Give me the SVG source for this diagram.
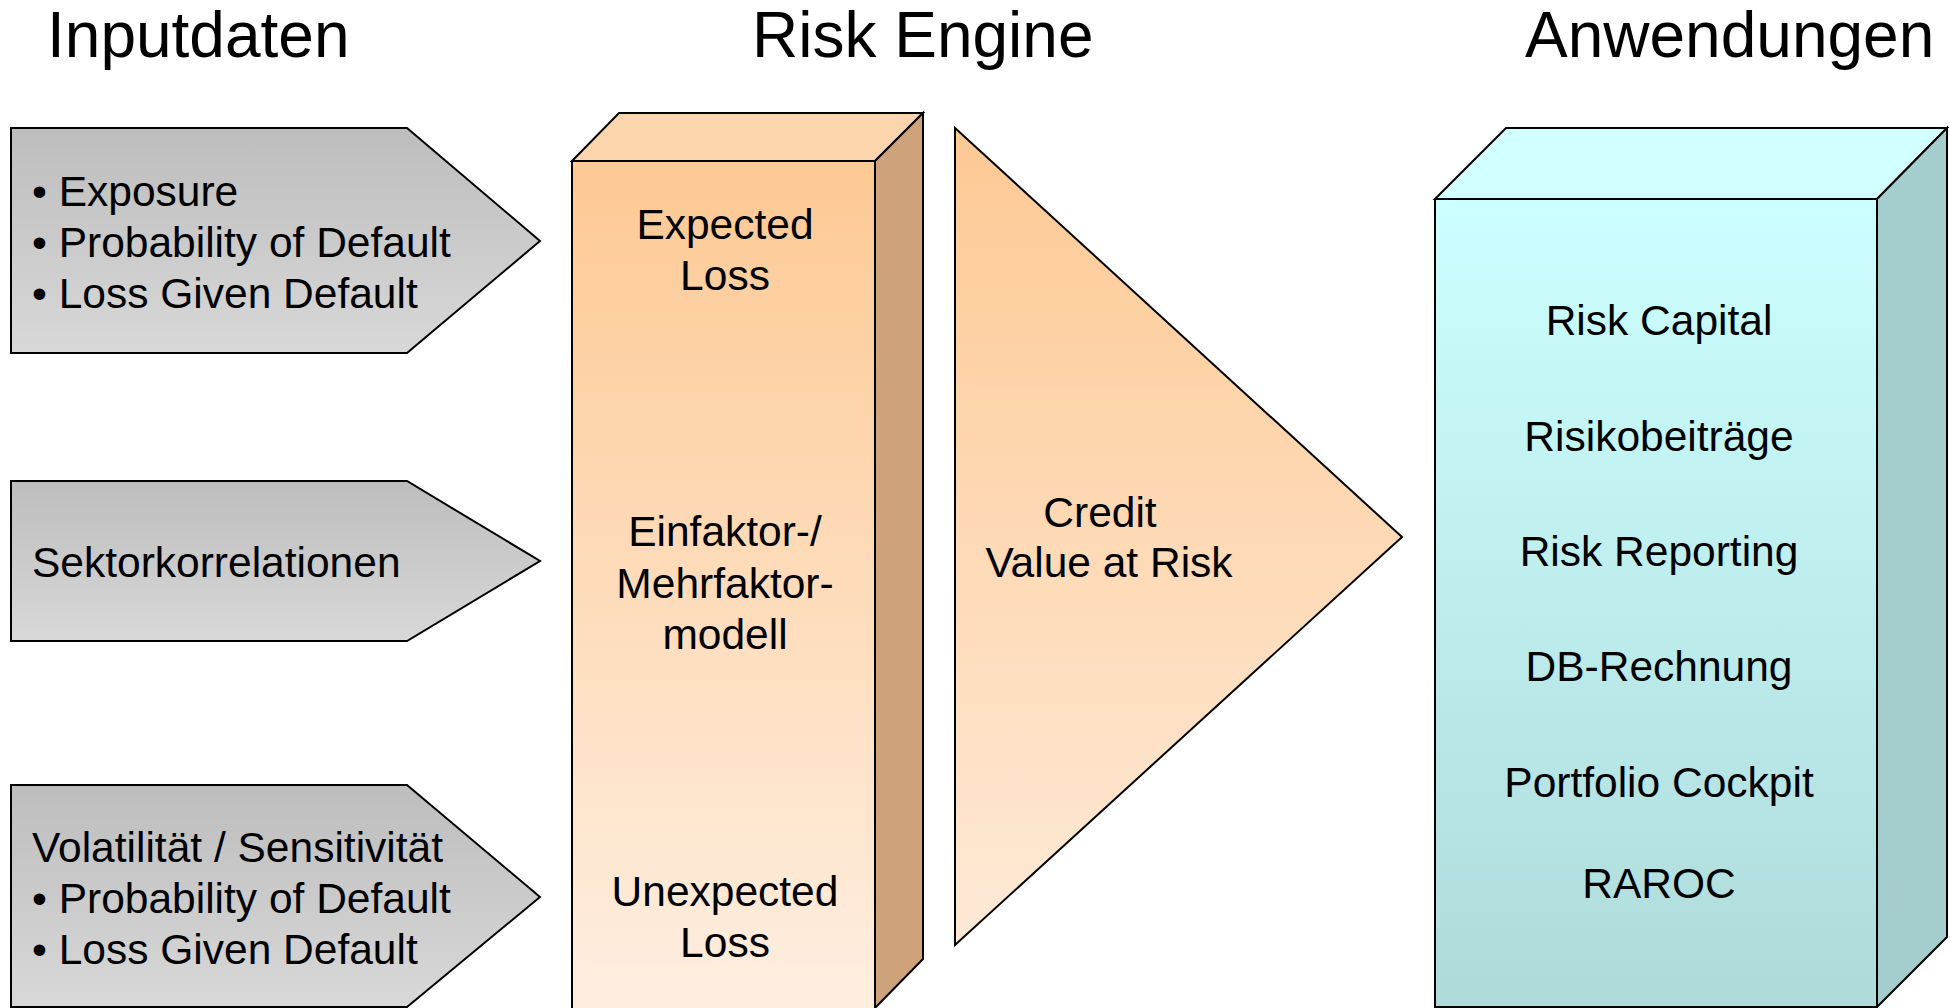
<svg xmlns="http://www.w3.org/2000/svg" width="1950" height="1008" viewBox="0 0 1950 1008">
  <defs>
    <linearGradient id="gGray" x1="0" y1="0" x2="0" y2="1">
      <stop offset="0" stop-color="#bdbdbd"/>
      <stop offset="1" stop-color="#d8d8d8"/>
    </linearGradient>
    <linearGradient id="gPeach" x1="0" y1="0" x2="0" y2="1">
      <stop offset="0" stop-color="#fdc994"/>
      <stop offset="1" stop-color="#feeee0"/>
    </linearGradient>
    <linearGradient id="gPeachTri" x1="0" y1="0" x2="0" y2="1">
      <stop offset="0" stop-color="#fdc994"/>
      <stop offset="1" stop-color="#fee9d6"/>
    </linearGradient>
    <linearGradient id="gCyan" x1="0" y1="0" x2="0" y2="1">
      <stop offset="0" stop-color="#ccffff"/>
      <stop offset="1" stop-color="#afdada"/>
    </linearGradient>
  </defs>
  <style>
    text { font-family: "Liberation Sans", Arial, sans-serif; fill: #000; }
    .title { font-size: 64px; }
    .lbl { font-size: 42.5px; }
    .mid { text-anchor: middle; }
    .edge { stroke: #000; stroke-width: 2; stroke-linejoin: miter; }
  </style>

  <rect width="1950" height="1008" fill="#fff"/>

  <!-- column headings -->
  <g id="headings">
    <text class="title" x="47" y="57">Inputdaten</text>
    <text class="title" x="752" y="57">Risk Engine</text>
    <text class="title" x="1525" y="57">Anwendungen</text>
  </g>

  <!-- input arrows -->
  <g id="input-pd-lgd">
    <polygon class="edge" fill="url(#gGray)" points="11,128 407,128 540,241 407,353 11,353"/>
    <text class="lbl" x="32" y="206">• Exposure</text>
    <text class="lbl" x="32" y="257">• Probability of Default</text>
    <text class="lbl" x="32" y="308">• Loss Given Default</text>
  </g>
  <g id="input-sector">
    <polygon class="edge" fill="url(#gGray)" points="11,481 407,481 540,561 407,641 11,641"/>
    <text class="lbl" x="32" y="577">Sektorkorrelationen</text>
  </g>
  <g id="input-volatility">
    <polygon class="edge" fill="url(#gGray)" points="11,785 407,785 540,897 407,1007 11,1007"/>
    <text class="lbl" x="32" y="862">Volatilität / Sensitivität</text>
    <text class="lbl" x="32" y="913">• Probability of Default</text>
    <text class="lbl" x="32" y="964">• Loss Given Default</text>
  </g>

  <!-- risk engine block -->
  <g id="risk-engine">
    <polygon class="edge" fill="#fdd5ad" points="572,161 619,113 923,113 875,161"/>
    <polygon class="edge" fill="#cea27b" points="875,161 923,113 923,959 875,1008"/>
    <rect class="edge" fill="url(#gPeach)" x="572" y="161" width="303" height="848"/>
    <text class="lbl mid" x="725" y="239">Expected</text>
    <text class="lbl mid" x="725" y="290">Loss</text>
    <text class="lbl mid" x="725" y="546">Einfaktor-/</text>
    <text class="lbl mid" x="725" y="598">Mehrfaktor-</text>
    <text class="lbl mid" x="725" y="649">modell</text>
    <text class="lbl mid" x="725" y="906">Unexpected</text>
    <text class="lbl mid" x="725" y="957">Loss</text>
  </g>

  <!-- credit VaR wedge -->
  <g id="credit-var">
    <polygon class="edge" fill="url(#gPeachTri)" points="955,128 1402,537 955,945"/>
    <text class="lbl mid" x="1100" y="527">Credit</text>
    <text class="lbl mid" x="1109" y="577">Value at Risk</text>
  </g>

  <!-- applications block -->
  <g id="applications">
    <polygon class="edge" fill="#d2ffff" points="1435,199 1506,128 1947,128 1877,199"/>
    <polygon class="edge" fill="#a5cdcd" points="1877,199 1947,128 1947,937 1877,1007"/>
    <rect class="edge" fill="url(#gCyan)" x="1435" y="199" width="442" height="808"/>
    <text class="lbl mid" x="1659" y="335">Risk Capital</text>
    <text class="lbl mid" x="1659" y="451">Risikobeiträge</text>
    <text class="lbl mid" x="1659" y="566">Risk Reporting</text>
    <text class="lbl mid" x="1659" y="681">DB-Rechnung</text>
    <text class="lbl mid" x="1659" y="797">Portfolio Cockpit</text>
    <text class="lbl mid" x="1659" y="898">RAROC</text>
  </g>

  <!-- no connectors between blocks -->
  <g id="connectors"/>
</svg>
